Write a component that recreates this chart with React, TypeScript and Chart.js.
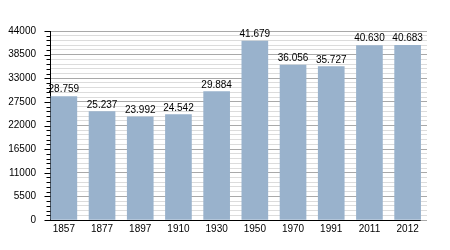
import React, { useEffect, useRef } from "react";
import { Chart, registerables } from "chart.js";

Chart.register(...registerables);

const years = ["1857", "1877", "1897", "1910", "1930", "1950", "1970", "1991", "2011", "2012"];
const population = [28759, 25237, 23992, 24542, 29884, 41679, 36056, 35727, 40630, 40683];
const yMax = 44000;
const majorStep = 5500;
const minorStep = 1100;

const FONT = '"Liberation Sans", Arial, sans-serif';
const BAR_COLOR = "rgb(153,178,204)";
const BAR_WIDTH = 26;

const fmt = (v: number) => String(v).replace(/\B(?=(\d{3})+(?!\d))/g, ".");

const overlay = {
  id: "overlay",
  afterDatasetsDraw(chart: any) {
    const { ctx, chartArea } = chart;
    const xs = chart.scales.x;
    const ys = chart.scales.y;
    ctx.save();
    ctx.strokeStyle = "#000";
    ctx.lineWidth = 1;
    const ax = Math.round(chartArea.left) + 0.5;
    for (let v = 0; v <= yMax; v += minorStep) {
      const py = Math.round(ys.getPixelForValue(v)) + 0.5;
      const len = v % majorStep === 0 ? 6 : 4;
      ctx.beginPath();
      ctx.moveTo(ax - len, py);
      ctx.lineTo(ax, py);
      ctx.stroke();
    }
    const by = Math.round(ys.getPixelForValue(0)) + 0.5;
    const xEnd = xs.getPixelForValue(years.length - 1) + BAR_WIDTH / 2;
    ctx.beginPath();
    ctx.moveTo(chartArea.left, by);
    ctx.lineTo(xEnd, by);
    ctx.stroke();
    ctx.fillStyle = "#000";
    ctx.font = `10px ${FONT}`;
    ctx.textAlign = "center";
    ctx.textBaseline = "alphabetic";
    const meta = chart.getDatasetMeta(0);
    meta.data.forEach((bar: any, i: number) => {
      ctx.fillText(fmt(population[i]), bar.x, bar.y - 4);
    });
    ctx.restore();
  },
};

export default function App() {
  const ref = useRef<HTMLCanvasElement | null>(null);
  useEffect(() => {
    document.body.style.margin = "0";
    const canvas = ref.current!;
    const chart = new Chart(canvas, {
      type: "bar",
      data: {
        datasets: [
          {
            data: population.map((y, i) => ({ x: i, y })),
            backgroundColor: BAR_COLOR,
            borderWidth: 0,
            barThickness: BAR_WIDTH,
          },
        ],
      },
      options: {
        responsive: false,
        animation: false,
        layout: { padding: { top: 31, right: 23, left: 0, bottom: 0 } },
        plugins: { legend: { display: false }, tooltip: { enabled: false } },
        scales: {
          x: {
            type: "linear",
            offset: false,
            min: -0.3626,
            max: 9.507,
            grid: { display: false, drawTicks: false, offset: false },
            border: { display: false },
            afterBuildTicks: (s: any) => {
              s.ticks = years.map((_, i) => ({ value: i }));
            },
            afterFit: (s: any) => {
              s.height = 30;
            },
            ticks: {
              callback: (v: any) => years[v] ?? "",
              padding: 3,
              autoSkip: false,
              maxRotation: 0,
              color: "#000",
              font: { family: FONT, size: 10 },
            },
          },
          y: {
            min: 0,
            max: yMax,
            afterFit: (s: any) => {
              s.width = 50;
            },
            ticks: {
              stepSize: minorStep,
              autoSkip: false,
              callback: (v: any) => (v % majorStep === 0 ? String(v) : ""),
              padding: 14,
              color: "#000",
              font: { family: FONT, size: 10 },
            },
            grid: {
              drawTicks: false,
              color: (c: any) => (c.tick && c.tick.value % majorStep === 0 ? "#a9a9a9" : "#dcdcdc"),
            },
            border: { color: "#000", width: 1 },
          },
        },
      } as any,
      plugins: [overlay],
    });
    return () => chart.destroy();
  }, []);
  return <canvas ref={ref} width={450} height={250} style={{ display: "block" }} />;
}
